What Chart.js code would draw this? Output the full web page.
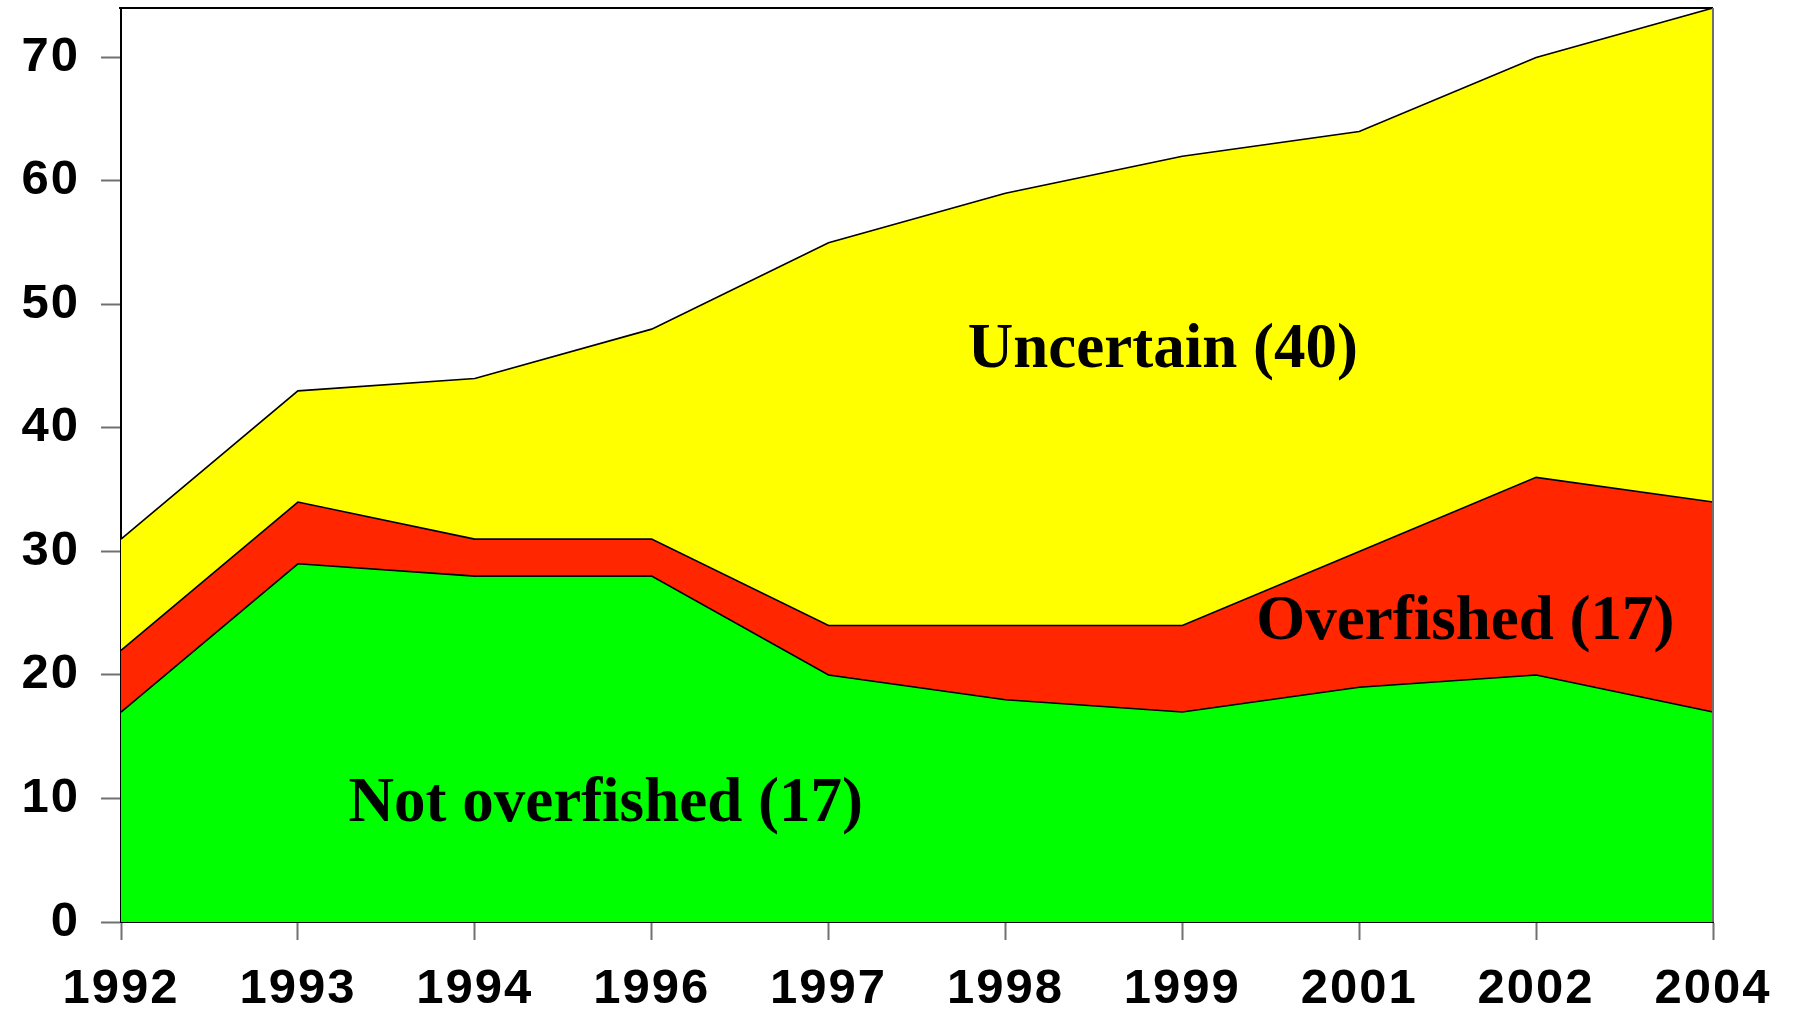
<!DOCTYPE html>
<html>
<head>
<meta charset="utf-8">
<script src="https://cdn.jsdelivr.net/npm/chart.js@4.4.1/dist/chart.umd.min.js"></script>
<style>
  html, body { margin: 0; padding: 0; background: #ffffff; }
  #wrap { width: 1794px; height: 1013px; }
</style>
</head>
<body>
<div id="wrap"><canvas id="c" width="1794" height="1013"></canvas></div>
<script>
// ---- data ----
const years = ['1992', '1993', '1994', '1996', '1997', '1998', '1999', '2001', '2002', '2004'];
const notOverfished = [17, 29, 28, 28, 20, 18, 17, 19, 20, 17];
const overfished    = [5, 5, 3, 3, 4, 6, 7, 11, 16, 17];
const uncertain     = [9, 9, 13, 17, 31, 35, 38, 34, 34, 40];
const yTicks = [0, 10, 20, 30, 40, 50, 60, 70];
const areaLabels = ['Not overfished (17)', 'Overfished (17)', 'Uncertain (40)'];

// annotation placement in data units (category index, value)
const labelAnchors = [
  { x: 2.74, y: 8.2 },
  { x: 7.60, y: 22.9 },
  { x: 5.89, y: 44.9 }
];

const TICK_FONT = { family: 'Liberation Sans, Arial, sans-serif', size: 49, weight: 'bold' };
const SPACING = '2px';

const spacingPlugin = {
  id: 'spacing',
  beforeUpdate(chart) { chart.ctx.letterSpacing = SPACING; },
  beforeLayout(chart) { chart.ctx.letterSpacing = SPACING; },
  beforeDraw(chart) { chart.ctx.letterSpacing = SPACING; }
};

const framePlugin = {
  id: 'frame',
  afterDatasetsDraw(chart) {
    const { ctx, chartArea: a } = chart;
    ctx.save();
    ctx.lineWidth = 2;
    ctx.strokeStyle = '#000000';
    ctx.beginPath();
    ctx.moveTo(a.left - 2, a.top);
    ctx.lineTo(a.right, a.top);
    ctx.stroke();
    ctx.strokeStyle = '#707070';
    ctx.beginPath();
    ctx.moveTo(a.right, a.top);
    ctx.lineTo(a.right, a.bottom);
    ctx.stroke();
    ctx.restore();
  },
  afterDraw(chart) {
    const { ctx } = chart;
    const xs = chart.scales.x, ys = chart.scales.y;
    ctx.save();
    ctx.letterSpacing = '0px';
    ctx.fillStyle = '#000000';
    ctx.font = 'bold 63px "Liberation Serif", "Times New Roman", serif';
    ctx.textAlign = 'center';
    ctx.textBaseline = 'alphabetic';
    areaLabels.forEach((t, i) => {
      const p = labelAnchors[i];
      ctx.fillText(t, xs.getPixelForValue(p.x), ys.getPixelForValue(p.y));
    });
    ctx.restore();
  }
};

new Chart(document.getElementById('c'), {
  type: 'line',
  data: {
    labels: years,
    datasets: [
      { label: areaLabels[0], data: notOverfished, backgroundColor: '#00ff00', fill: 'origin' },
      { label: areaLabels[1], data: overfished, backgroundColor: '#ff2600', fill: '-1' },
      { label: areaLabels[2], data: uncertain, backgroundColor: '#ffff00', fill: '-1' }
    ].map(d => Object.assign(d, { borderColor: '#000000', borderWidth: 1.6, pointRadius: 0, tension: 0 }))
  },
  options: {
    responsive: false,
    animation: false,
    devicePixelRatio: 1,
    layout: { padding: { top: 8, right: 81, left: 0, bottom: 0 } },
    plugins: { legend: { display: false }, tooltip: { enabled: false } },
    scales: {
      x: {
        type: 'category',
        offset: false,
        grid: { drawOnChartArea: false, drawTicks: true, tickLength: 18, tickColor: '#707070', tickWidth: 2 },
        border: { display: true, color: '#000000', width: 2 },
        ticks: { color: '#000000', font: TICK_FONT, padding: 20, maxRotation: 0, autoSkip: false },
        afterFit(s) { s.height = 91; s.paddingRight = 0; }
      },
      y: {
        stacked: true,
        min: 0,
        max: 74,
        afterBuildTicks(s) { s.ticks = yTicks.map(v => ({ value: v })); },
        grid: { drawOnChartArea: false, drawTicks: true, tickLength: 20, tickColor: '#707070', tickWidth: 2 },
        border: { display: true, color: '#000000', width: 2 },
        ticks: { color: '#000000', font: TICK_FONT, padding: 21 },
        afterFit(s) { s.width = 121; s.paddingTop = 0; s.paddingBottom = 0; }
      }
    }
  },
  plugins: [spacingPlugin, framePlugin]
});
</script>
</body>
</html>
